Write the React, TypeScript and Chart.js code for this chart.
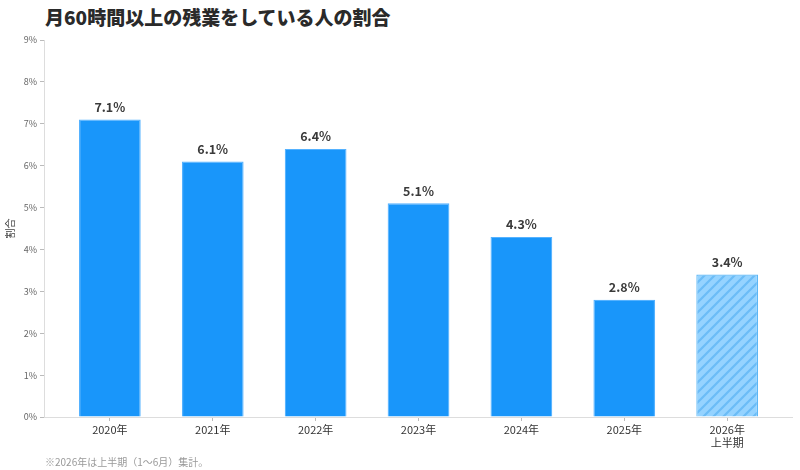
import React, { useEffect, useRef } from "react";
import { Chart, registerables } from "chart.js";

Chart.register(...registerables);

const titleText = "月60時間以上の残業をしている人の割合";
const footnoteText = "※2026年は上半期（1〜6月）集計。";
const yAxisTitle = "割合";
const categories: string[][] = [
  ["2020年"],
  ["2021年"],
  ["2022年"],
  ["2023年"],
  ["2024年"],
  ["2025年"],
  ["2026年", "上半期"],
];
const values = [7.1, 6.1, 6.4, 5.1, 4.3, 2.8, 3.4];
const partial = [false, false, false, false, false, false, true];
const yMax = 9;
const yStep = 1;

const FONT = "'Noto Sans CJK JP', 'Noto Sans', sans-serif";

function makeHatch(): CanvasPattern | string {
  const c = document.createElement("canvas");
  const s = 10;
  c.width = s;
  c.height = s;
  const g = c.getContext("2d");
  if (!g) return "#93d2ff";
  g.fillStyle = "#95d3ff";
  g.fillRect(0, 0, s, s);
  g.strokeStyle = "#6bbcf7";
  g.lineWidth = 2.2;
  g.beginPath();
  g.moveTo(-2, s + 2);
  g.lineTo(s + 2, -2);
  g.moveTo(-s / 2 - 2, s / 2 + 2);
  g.lineTo(s / 2 + 2, -s / 2 - 2);
  g.moveTo(s / 2 - 2, s * 1.5 + 2);
  g.lineTo(s * 1.5 + 2, s / 2 - 2);
  g.stroke();
  return g.createPattern(c, "repeat") || "#93d2ff";
}

const valueLabelPlugin = {
  id: "valueLabels",
  afterDatasetsDraw(chart: any) {
    const ctx = chart.ctx;
    const meta = chart.getDatasetMeta(0);
    ctx.save();
    ctx.font = `bold 12.5px ${FONT}`;
    ctx.fillStyle = "#3a3a3a";
    ctx.textAlign = "center";
    ctx.textBaseline = "bottom";
    meta.data.forEach((el: any, i: number) => {
      ctx.fillText(`${values[i].toFixed(1)}%`, el.x, el.y - 6);
    });
    ctx.restore();
  },
};

export default function App() {
  const canvasRef = useRef<HTMLCanvasElement | null>(null);

  useEffect(() => {
    if (!canvasRef.current) return;
    const hatch = makeHatch();
    const chart = new Chart(canvasRef.current, {
      type: "bar",
      data: {
        datasets: [
          {
            data: values.map((v, i) => ({ x: i, y: v })),
            backgroundColor: partial.map((p) => (p ? hatch : "#1996fa")),
            borderColor: partial.map((p) => (p ? "#5cb6f5" : "#55b2ff")),
            borderWidth: 1.2,
            barPercentage: 0.6,
            categoryPercentage: 1,
          } as any,
        ],
      },
      options: {
        animation: false,
        responsive: true,
        maintainAspectRatio: false,
        layout: { padding: { left: 0, right: 8, top: 40, bottom: 0 } },
        plugins: {
          legend: { display: false },
          tooltip: { enabled: false },
        },
        scales: {
          x: {
            type: "linear",
            offset: false,
            min: -0.64,
            max: 6.63,
            bounds: "data",
            afterBuildTicks: (scale: any) => {
              scale.ticks = categories.map((_, i) => ({ value: i }));
            },
            afterFit: (scale: any) => {
              scale.height = 53;
            },
            ticks: {
              autoSkip: false,
              maxRotation: 0,
              minRotation: 0,
              padding: 2,
              color: "#333",
              font: { family: FONT, size: 11, lineHeight: 1.2 },
              callback: (v: any) => categories[Math.round(Number(v))] ?? "",
            },
            grid: {
              offset: false,
              drawOnChartArea: false,
              drawTicks: true,
              tickLength: 4,
              color: "#bbb",
            },
            border: { display: true, color: "#ddd", width: 1 },
          },
          y: {
            min: 0,
            max: yMax,
            afterFit: (scale: any) => {
              scale.width = 44;
            },
            title: {
              display: true,
              text: yAxisTitle,
              color: "#444",
              font: { family: FONT, size: 10 },
              padding: { top: 4, bottom: 2 },
            },
            ticks: {
              stepSize: yStep,
              padding: 3,
              color: "#666",
              font: { family: FONT, size: 9 },
              callback: (v: any) => `${v}%`,
            },
            grid: {
              drawOnChartArea: false,
              drawTicks: true,
              tickLength: 4,
              color: "#bbb",
            },
            border: { display: true, color: "#ddd", width: 1 },
          },
        },
      } as any,
      plugins: [valueLabelPlugin],
    });
    return () => chart.destroy();
  }, []);

  return (
    <div
      style={{
        position: "fixed",
        left: 0,
        top: 0,
        width: 800,
        height: 470,
        background: "#fff",
        overflow: "hidden",
      }}
    >
      <div
        style={{
          position: "absolute",
          left: 45,
          top: 3,
          fontFamily: FONT,
          fontWeight: 900,
          fontSize: 19,
          color: "#2a2a2a",
          lineHeight: "28px",
          whiteSpace: "nowrap",
        }}
      >
        {titleText}
      </div>
      <div style={{ position: "absolute", left: 0, top: 0, width: 800, height: 470 }}>
        <canvas ref={canvasRef} />
      </div>
      <div
        style={{
          position: "absolute",
          left: 45,
          top: 455,
          fontFamily: FONT,
          fontSize: 10,
          color: "#999",
          lineHeight: "14px",
          whiteSpace: "nowrap",
        }}
      >
        {footnoteText}
      </div>
    </div>
  );
}
